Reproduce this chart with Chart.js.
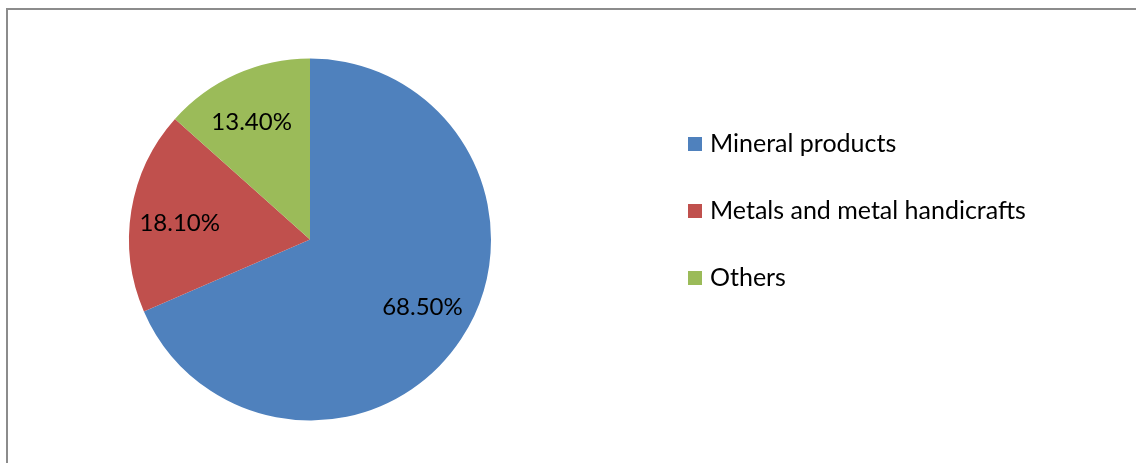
<!DOCTYPE html>
<html>
<head>
<meta charset="utf-8">
<script src="https://cdn.jsdelivr.net/npm/chart.js@4.4.1/dist/chart.umd.min.js"></script>
<style>
    html, body { margin: 0; padding: 0; background: #fff; }
    #wrap { position: relative; width: 1136px; height: 463px; overflow: hidden; }
    #frame {
        position: absolute; left: 6px; top: 8px; right: -10px; bottom: -10px;
        border-top: 2px solid #8c8c8c; border-left: 2px solid #8c8c8c;
    }
    #pie { position: absolute; left: 0; top: 0; }
</style>
</head>
<body>
<div id="wrap">
    <div id="frame"></div>
    <canvas id="pie" width="1136" height="463"></canvas>
</div>
<script>
// -----------------------------
// DATA
// -----------------------------
const categories = ["Mineral products", "Metals and metal handicrafts", "Others"];
const shares = [68.5, 18.1, 13.4];
const sliceColors = ["#4F81BD", "#C0504D", "#9BBB59"];

const FONT = "Lato, 'Open Sans', sans-serif";

// percentage labels inside each slice, pushed out towards the rim
const sliceLabels = {
    id: "sliceLabels",
    afterDatasetsDraw(chart) {
        const ctx = chart.ctx;
        const meta = chart.getDatasetMeta(0);
        ctx.save();
        ctx.font = "24px " + FONT;
        ctx.fillStyle = "#000";
        ctx.textAlign = "center";
        ctx.textBaseline = "middle";
        meta.data.forEach((arc, i) => {
            const mid = (arc.startAngle + arc.endAngle) / 2 - 0.04;
            const r = arc.outerRadius * 0.725;
            const x = arc.x + Math.cos(mid) * r;
            const y = arc.y + Math.sin(mid) * r;
            ctx.fillText(shares[i].toFixed(2) + "%", x, y);
        });
        ctx.restore();
    }
};

// legend on the right: square swatch + name
const sideLegend = {
    id: "sideLegend",
    afterDraw(chart) {
        const ctx = chart.ctx;
        const colors = chart.data.datasets[0].backgroundColor;
        ctx.save();
        ctx.font = "25px " + FONT;
        ctx.textBaseline = "middle";
        chart.data.labels.forEach((label, i) => {
            const y = 144 + i * 67;
            ctx.fillStyle = colors[i];
            ctx.fillRect(688, y - 7, 14, 14);
            ctx.fillStyle = "#000";
            ctx.fillText(label, 710, y);
        });
        ctx.restore();
    }
};

new Chart(document.getElementById("pie").getContext("2d"), {
    type: "pie",
    data: {
        labels: categories,
        datasets: [{
            data: shares,
            backgroundColor: sliceColors,
            borderWidth: 0
        }]
    },
    options: {
        responsive: false,
        animation: false,
        layout: { padding: { left: 129, right: 645, top: 58, bottom: 42 } },
        plugins: {
            legend: { display: false },
            tooltip: { enabled: false }
        }
    },
    plugins: [sliceLabels, sideLegend]
});
</script>
</body>
</html>
